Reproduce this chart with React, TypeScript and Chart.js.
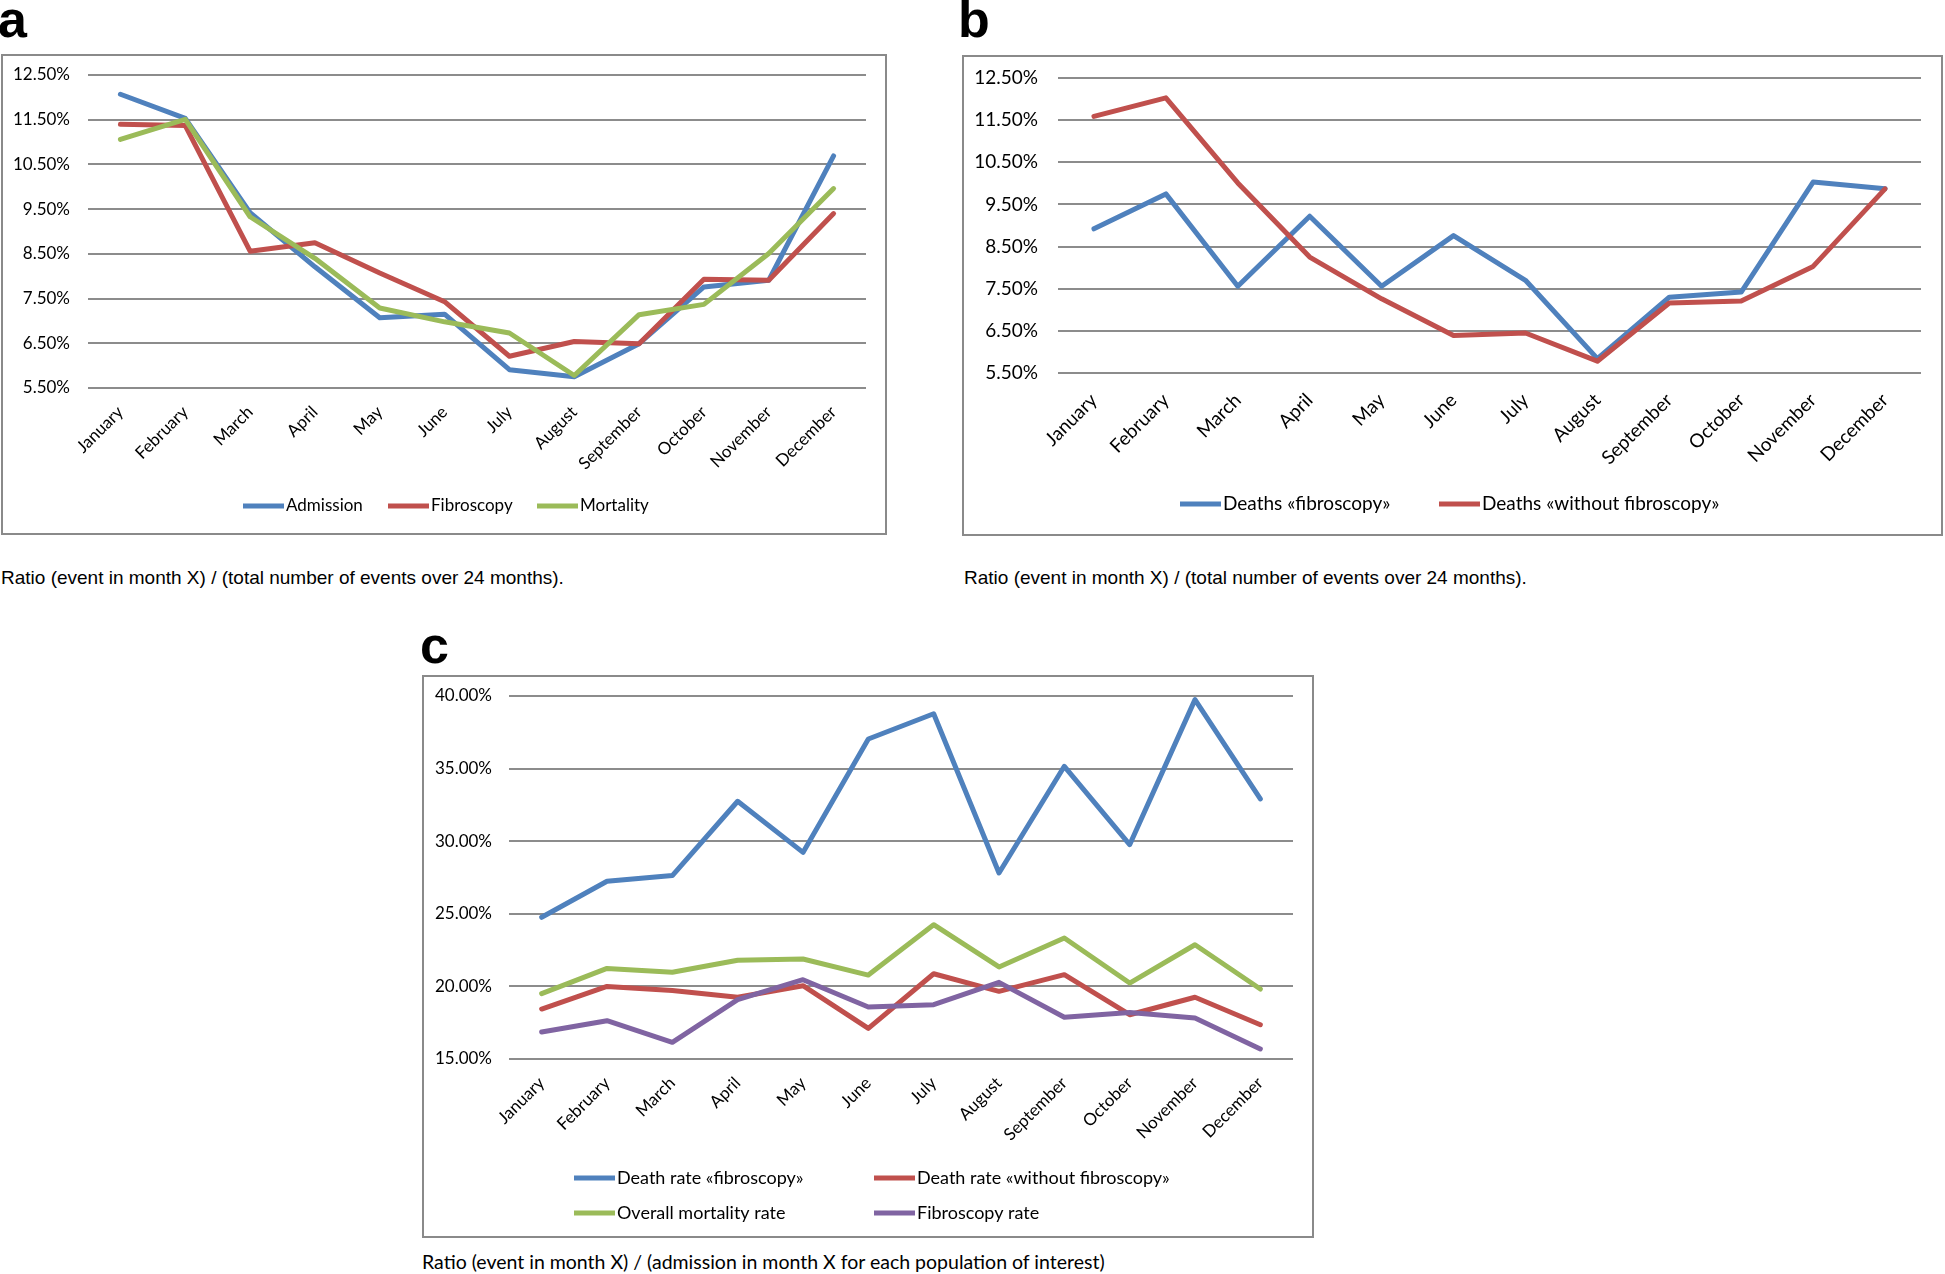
import React, { useEffect, useRef } from 'react';
import { Chart, registerables } from 'chart.js';

Chart.register(...registerables);

// ---------- data ----------
const MONTHS = ['January', 'February', 'March', 'April', 'May', 'June', 'July', 'August', 'September', 'October', 'November', 'December'];

// Panel a (% of events over 24 months)
const A_ADMISSION = [12.07, 11.53, 9.42, 8.21, 7.07, 7.15, 5.91, 5.75, 6.49, 7.76, 7.91, 10.69];
const A_FIBROSCOPY = [11.40, 11.37, 8.56, 8.75, 8.07, 7.43, 6.21, 6.54, 6.49, 7.93, 7.91, 9.40];
const A_MORTALITY = [11.06, 11.51, 9.33, 8.40, 7.29, 6.98, 6.73, 5.78, 7.14, 7.37, 8.51, 9.96];

// Panel b
const B_DEATHS_FIBRO = [8.92, 9.75, 7.56, 9.22, 7.56, 8.76, 7.70, 5.84, 7.30, 7.42, 10.03, 9.87];
const B_DEATHS_NO_FIBRO = [11.59, 12.03, 10.01, 8.25, 7.26, 6.39, 6.45, 5.78, 7.16, 7.21, 8.03, 9.87];

// Panel c (% of admissions in month)
const C_DEATH_FIBRO = [24.76, 27.24, 27.63, 32.75, 29.23, 37.04, 38.78, 27.81, 35.16, 29.76, 39.75, 32.91];
const C_DEATH_NO_FIBRO = [18.44, 20.0, 19.71, 19.25, 20.05, 17.11, 20.87, 19.66, 20.81, 18.05, 19.25, 17.36];
const C_OVERALL_MORTALITY = [19.5, 21.24, 20.97, 21.8, 21.89, 20.78, 24.25, 21.34, 23.33, 20.23, 22.87, 19.82];
const C_FIBRO_RATE = [16.86, 17.64, 16.15, 19.09, 20.46, 18.58, 18.74, 20.28, 17.87, 18.21, 17.82, 15.69];

const A_LABELS = ['Admission', 'Fibroscopy', 'Mortality'];
const B_LABELS = ['Deaths «fibroscopy»', 'Deaths «without fibroscopy»'];
const C_LABELS = ['Death rate «fibroscopy»', 'Death rate «without fibroscopy»', 'Overall mortality rate', 'Fibroscopy rate'];

const AB_Y = { min: 5.5, max: 12.5, step: 1 };
const C_Y = { min: 15, max: 40, step: 5 };

const CAPTION_AB = 'Ratio (event in month X) / (total number of events over 24 months).';
const CAPTION_C = 'Ratio (event in month X) / (admission in month X for each population of interest)';

// ---------- styles ----------
const BLUE = '#4F81BD';
const RED = '#C0504D';
const GREEN = '#9BBB59';
const PURPLE = '#8064A2';
const GRID = '#8c8c8c';
const FONT = 'Lato, "Open Sans", sans-serif';

function makeDatasets(labels: string[], series: number[][], colors: string[]) {
  const n = series.length;
  return series.map((data, i) => ({
    label: labels[i],
    data,
    borderColor: colors[i],
    backgroundColor: colors[i],
    borderWidth: 5,
    pointRadius: 0,
    tension: 0,
    fill: false,
    borderJoinStyle: 'round' as const,
    borderCapStyle: 'round' as const,
    order: n - i,
  }));
}

// Legend drawn in Excel style: short thick line immediately followed by the label,
// items laid out in fixed columns/rows below the plot area.
const gridLegendPlugin = {
  id: 'gridLegend',
  afterDraw(chart: any, _args: any, opts: any) {
    if (!opts || !opts.enabled) return;
    const { ctx, chartArea } = chart;
    ctx.save();
    ctx.font = `${opts.fontSize}px ${FONT}`;
    ctx.textBaseline = 'middle';
    ctx.textAlign = 'left';
    chart.data.datasets.forEach((ds: any, i: number) => {
      const col = i % opts.columns;
      const row = Math.floor(i / opts.columns);
      const x = chartArea.left + opts.x[col];
      const y = chartArea.bottom + opts.y[row];
      ctx.fillStyle = ds.borderColor;
      ctx.fillRect(x, y - 2.5, 41, 5);
      ctx.fillStyle = '#000';
      ctx.fillText(ds.label, x + 43, y);
    });
    ctx.restore();
  },
};

function buildOptions(p: {
  y: { min: number; max: number; step: number };
  yWidth: number;
  yPad: number;
  xHeight: number;
  xPad: number;
  fontSize: number;
  padding: { top: number; right: number; bottom: number; left: number };
  gridLegend: any;
}) {
  const font = { family: FONT, size: p.fontSize };
  return {
    responsive: false,
    animation: false as const,
    layout: { padding: p.padding },
    plugins: {
      legend: { display: false },
      tooltip: { enabled: false },
      gridLegend: p.gridLegend,
    },
    scales: {
      x: {
        offset: true,
        grid: { display: false, drawTicks: false },
        border: { display: false },
        ticks: { minRotation: 45, maxRotation: 45, autoSkip: false, padding: p.xPad, color: '#000', font },
        afterFit: (s: any) => { s.height = p.xHeight; },
      },
      y: {
        min: p.y.min,
        max: p.y.max,
        grid: { color: GRID, lineWidth: 2, drawTicks: false },
        border: { display: false },
        ticks: {
          stepSize: p.y.step,
          padding: p.yPad,
          color: '#000',
          font,
          callback: (v: any) => Number(v).toFixed(2) + '%',
        },
        afterFit: (s: any) => {
          s.width = p.yWidth;
          s.paddingTop = 0;
          s.paddingBottom = 0;
        },
      },
    },
  };
}

function ChartCanvas({ w, h, makeConfig }: { w: number; h: number; makeConfig: () => any }) {
  const ref = useRef<HTMLCanvasElement>(null);
  useEffect(() => {
    const chart = new Chart(ref.current as HTMLCanvasElement, makeConfig());
    return () => chart.destroy();
  }, []);
  return <canvas ref={ref} width={w} height={h} style={{ display: 'block', width: w, height: h }} />;
}

const boxStyle = (left: number, top: number, width: number, height: number): React.CSSProperties => ({
  position: 'absolute',
  left,
  top,
  width,
  height,
  boxSizing: 'border-box',
  border: '2px solid #8a8a8a',
  background: '#fff',
});

const panelLabel = (left: number, top: number): React.CSSProperties => ({
  position: 'absolute',
  left,
  top,
  fontFamily: '"Liberation Sans", Arial, sans-serif',
  fontWeight: 700,
  fontSize: 52,
  lineHeight: '52px',
  color: '#000',
});

const captionStyle = (left: number, top: number, family: string, size: number): React.CSSProperties => ({
  position: 'absolute',
  left,
  top,
  fontFamily: family,
  fontSize: size,
  lineHeight: `${size}px`,
  color: '#000',
  whiteSpace: 'nowrap',
});

export default function App() {
  // Panel a: canvas 882x477, plot area x 85..863, y 19..332
  const configA = () => ({
    type: 'line',
    data: { labels: MONTHS, datasets: makeDatasets(A_LABELS, [A_ADMISSION, A_FIBROSCOPY, A_MORTALITY], [BLUE, RED, GREEN]) },
    options: buildOptions({
      y: AB_Y, yWidth: 85, yPad: 18, xHeight: 145, xPad: 14, fontSize: 17,
      padding: { top: 19, right: 19, bottom: 0, left: 0 },
      gridLegend: { enabled: true, columns: 3, x: [155, 300, 449], y: [118], fontSize: 17 },
    }),
    plugins: [gridLegendPlugin],
  });
  // Panel b: canvas 977x477, plot area x 94..957, y 21..316
  const configB = () => ({
    type: 'line',
    data: { labels: MONTHS, datasets: makeDatasets(B_LABELS, [B_DEATHS_FIBRO, B_DEATHS_NO_FIBRO], [BLUE, RED]) },
    options: buildOptions({
      y: AB_Y, yWidth: 94, yPad: 20, xHeight: 161, xPad: 16, fontSize: 19,
      padding: { top: 21, right: 20, bottom: 0, left: 0 },
      gridLegend: { enabled: true, columns: 2, x: [122, 381], y: [131], fontSize: 19 },
    }),
    plugins: [gridLegendPlugin],
  });
  // Panel c: canvas 888x559, plot area x 85..869, y 19..382
  const configC = () => ({
    type: 'line',
    data: {
      labels: MONTHS,
      datasets: makeDatasets(C_LABELS, [C_DEATH_FIBRO, C_DEATH_NO_FIBRO, C_OVERALL_MORTALITY, C_FIBRO_RATE], [BLUE, RED, GREEN, PURPLE]),
    },
    options: buildOptions({
      y: C_Y, yWidth: 85, yPad: 17, xHeight: 177, xPad: 14, fontSize: 17,
      padding: { top: 19, right: 19, bottom: 0, left: 0 },
      gridLegend: { enabled: true, columns: 2, x: [65, 365], y: [119, 154], fontSize: 18 },
    }),
    plugins: [gridLegendPlugin],
  });

  return (
    <div style={{ position: 'absolute', left: 0, top: 0, width: 1945, height: 1274, background: '#fff', overflow: 'hidden' }}>
      <div style={panelLabel(-2, -7)}>a</div>
      <div style={boxStyle(1, 54, 886, 481)}>
        <ChartCanvas w={882} h={477} makeConfig={configA} />
      </div>
      <div style={captionStyle(1, 568, '"Liberation Sans", Arial, sans-serif', 19)}>{CAPTION_AB}</div>

      <div style={panelLabel(958, -7)}>b</div>
      <div style={boxStyle(962, 55, 981, 481)}>
        <ChartCanvas w={977} h={477} makeConfig={configB} />
      </div>
      <div style={captionStyle(964, 568, '"Liberation Sans", Arial, sans-serif', 19)}>{CAPTION_AB}</div>

      <div style={panelLabel(420, 619)}>c</div>
      <div style={boxStyle(422, 675, 892, 563)}>
        <ChartCanvas w={888} h={559} makeConfig={configC} />
      </div>
      <div style={captionStyle(422, 1252, FONT, 19.5)}>{CAPTION_C}</div>
    </div>
  );
}
